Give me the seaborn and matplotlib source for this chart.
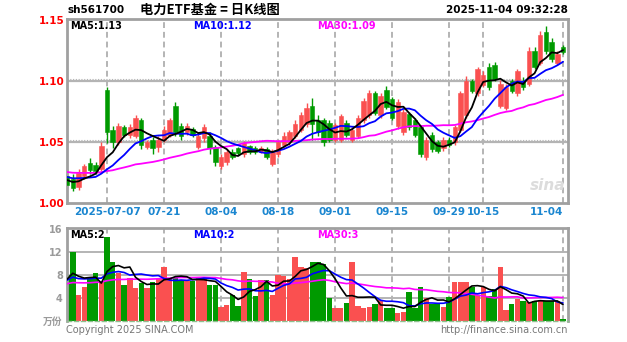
import matplotlib
matplotlib.use("Agg")
import matplotlib.pyplot as plt
import seaborn as sns
import numpy as np
import pandas as pd

# ---------------- data ----------------
open_ = [1.022, 1.020, 1.013, 1.022, 1.033, 1.031, 1.028, 1.093, 1.060, 1.050,
         1.062, 1.056, 1.055, 1.068, 1.046, 1.052, 1.046, 1.052, 1.056, 1.080,
         1.063, 1.058, 1.061, 1.046, 1.053, 1.055, 1.046, 1.030, 1.034, 1.042,
         1.045, 1.040, 1.047, 1.045, 1.042, 1.044, 1.032, 1.040, 1.048, 1.050,
         1.055, 1.060, 1.065, 1.080, 1.068, 1.068, 1.066, 1.052, 1.052, 1.066,
         1.052, 1.055, 1.068, 1.072, 1.090, 1.072, 1.093, 1.085, 1.063, 1.058,
         1.073, 1.068, 1.062, 1.038, 1.056, 1.050, 1.045, 1.052, 1.050, 1.060,
         1.072, 1.100, 1.090, 1.097, 1.112, 1.113, 1.080, 1.078, 1.100, 1.090,
         1.100, 1.098, 1.125, 1.115, 1.140, 1.132, 1.115, 1.128]
close = [1.015, 1.012, 1.025, 1.030, 1.027, 1.026, 1.047, 1.058, 1.050, 1.063,
         1.056, 1.062, 1.070, 1.048, 1.050, 1.045, 1.052, 1.060, 1.068, 1.058,
         1.055, 1.063, 1.056, 1.055, 1.062, 1.045, 1.034, 1.038, 1.042, 1.038,
         1.041, 1.049, 1.042, 1.042, 1.045, 1.038, 1.042, 1.050, 1.055, 1.058,
         1.065, 1.072, 1.078, 1.065, 1.058, 1.050, 1.052, 1.064, 1.071, 1.056,
         1.060, 1.070, 1.084, 1.090, 1.074, 1.088, 1.079, 1.070, 1.083, 1.075,
         1.062, 1.056, 1.040, 1.052, 1.044, 1.043, 1.052, 1.048, 1.062, 1.090,
         1.100, 1.092, 1.110, 1.105, 1.095, 1.102, 1.098, 1.095, 1.092, 1.108,
         1.095, 1.125, 1.112, 1.138, 1.125, 1.118, 1.122, 1.124]
high = [1.028, 1.024, 1.028, 1.032, 1.037, 1.034, 1.050, 1.095, 1.063, 1.066,
        1.064, 1.065, 1.072, 1.070, 1.052, 1.054, 1.055, 1.063, 1.070, 1.083,
        1.066, 1.066, 1.062, 1.058, 1.065, 1.058, 1.048, 1.040, 1.044, 1.044,
        1.046, 1.051, 1.048, 1.047, 1.047, 1.046, 1.044, 1.052, 1.058, 1.060,
        1.068, 1.075, 1.082, 1.086, 1.072, 1.070, 1.068, 1.066, 1.073, 1.068,
        1.062, 1.072, 1.086, 1.093, 1.092, 1.090, 1.096, 1.087, 1.085, 1.077,
        1.075, 1.070, 1.064, 1.054, 1.058, 1.052, 1.054, 1.054, 1.064, 1.092,
        1.104, 1.102, 1.112, 1.108, 1.115, 1.116, 1.101, 1.098, 1.102, 1.110,
        1.103, 1.128, 1.128, 1.141, 1.145, 1.135, 1.125, 1.130]
low = [1.012, 1.010, 1.011, 1.020, 1.024, 1.024, 1.026, 1.049, 1.045, 1.048,
       1.054, 1.053, 1.053, 1.044, 1.044, 1.040, 1.042, 1.050, 1.054, 1.055,
       1.052, 1.056, 1.054, 1.044, 1.050, 1.040, 1.030, 1.028, 1.031, 1.036,
       1.039, 1.038, 1.040, 1.040, 1.041, 1.036, 1.030, 1.038, 1.046, 1.048,
       1.053, 1.058, 1.062, 1.052, 1.055, 1.047, 1.050, 1.050, 1.050, 1.054,
       1.050, 1.053, 1.066, 1.070, 1.072, 1.070, 1.077, 1.068, 1.061, 1.056,
       1.060, 1.054, 1.038, 1.035, 1.042, 1.041, 1.043, 1.046, 1.048, 1.058,
       1.070, 1.090, 1.088, 1.095, 1.093, 1.100, 1.078, 1.076, 1.090, 1.088,
       1.093, 1.096, 1.110, 1.113, 1.122, 1.116, 1.113, 1.122]
volume = [8.0, 12.0, 4.5, 6.0, 7.4, 8.3, 6.8, 14.6, 10.3, 8.3,
          6.3, 7.5, 5.7, 6.6, 5.7, 6.8, 7.4, 9.4, 7.4, 7.7,
          7.2, 6.9, 6.9, 7.5, 7.5, 6.3, 6.3, 2.5, 2.8, 4.6,
          2.6, 8.5, 7.3, 4.3, 7.2, 7.2, 4.5, 8.0, 7.8, 7.4,
          11.1, 9.4, 9.2, 10.3, 10.3, 10.0, 4.0, 2.3, 2.3, 3.2,
          10.3, 2.6, 2.3, 2.5, 3.0, 3.6, 2.3, 2.3, 1.4, 1.6,
          5.0, 2.3, 5.9, 4.0, 3.0, 3.0, 2.4, 4.2, 6.8, 6.8,
          6.8, 5.9, 4.5, 6.0, 4.4, 5.5, 9.4, 2.0, 3.0, 3.8,
          3.5, 3.3, 3.5, 3.6, 3.5, 3.5, 3.4, 0.3]
# sessions before the visible window (estimated, only feed the moving averages)
prior_close = [1.030, 1.028, 1.031, 1.027, 1.025, 1.029, 1.032, 1.030, 1.026, 1.024,
               1.027, 1.029, 1.031, 1.028, 1.025, 1.023, 1.026, 1.028, 1.027, 1.024,
               1.022, 1.025, 1.027, 1.024, 1.021, 1.020, 1.022, 1.019, 1.018]
prior_volume = [6.0, 5.5, 6.5, 7.0, 5.8, 6.2, 6.8, 5.9, 6.4, 6.1,
                5.7, 6.3, 6.6, 6.0, 5.5, 6.2, 6.9, 6.4, 5.8, 6.1,
                6.7, 7.2, 6.5, 7.0, 7.4, 6.8, 7.1, 7.6, 6.9]

tick_idx = [7, 17, 27, 37, 47, 57, 67, 73, 87]
tick_labels = ["2025-07-07", "07-21", "08-04", "08-18", "09-01",
               "09-15", "09-29", "10-15", "11-04"]
price_ticks = [1.00, 1.05, 1.10, 1.15]
price_tick_labels = ["1.00", "1.05", "1.10", "1.15"]
vol_ticks = [0, 4, 8, 12, 16]
vol_tick_labels = ["万份", "4", "8", "12", "16"]
price_ma_labels = ["MA5:1.13", "MA10:1.12", "MA30:1.09"]
vol_ma_labels = ["MA5:2", "MA10:2", "MA30:3"]

# ---------------- derived ----------------
n = len(close)
idx = np.arange(n)
full_c = pd.Series(prior_close + close)
full_v = pd.Series(prior_volume + volume)
k = len(prior_close)
ma = {w: full_c.rolling(w, min_periods=1).mean().values[k:] for w in (5, 10, 30)}
vma = {w: full_v.rolling(w, min_periods=1).mean().values[k:] for w in (5, 10, 30)}

df = pd.DataFrame({"i": idx, "open": open_, "close": close, "high": high,
                   "low": low, "vol": volume})
df["up"] = df["close"] >= df["open"]

RED = "#fa5050"
GREEN = "#009a00"
MA_COLORS = {5: "#000000", 10: "#0000ff", 30: "#ff00ff"}
GRID = "#b4b4b4"
FRAME = "#a0a0a0"

sns.set_style("white")
plt.rcParams["font.family"] = ["DejaVu Sans", "Noto Sans CJK SC"]

W, H = 627, 342
fig = plt.figure(figsize=(W / 100, H / 100), dpi=100)
fig.patch.set_facecolor("white")

def fx(x):
    return x / W

def fy(y):
    return 1 - y / H

L, R = 67, 568
ax_p = fig.add_axes([fx(L), fy(203), (R - L) / W, (203 - 19) / H])
ax_v = fig.add_axes([fx(L), fy(321), (R - L) / W, (321 - 228) / H])

xlim = (-0.02, 87.87)

# ---- price panel ----
for ax in (ax_p, ax_v):
    for t in tick_idx:
        ax.axvline(t, color=GRID, lw=1.4, ls=(0, (3, 2)), zorder=0)
for yv in (1.05, 1.10):
    ax_p.axhline(yv, color=GRID, lw=1.6, zorder=0)
    ax_p.axhline(yv + 0.0018, color=GRID, lw=0.8, ls=(0, (1, 1.5)), zorder=0)

colors = np.where(df["up"], RED, GREEN)
ax_p.vlines(df["i"], df["low"], df["high"], colors=colors, lw=1.0, zorder=2)
body_bottom = np.minimum(df["open"], df["close"])
body_h = np.maximum(np.abs(df["close"] - df["open"]), 0.0008)
ax_p.bar(df["i"], body_h, bottom=body_bottom, width=0.78, color=colors,
         edgecolor=colors, linewidth=0.4, zorder=3)

for w in (30, 10, 5):
    sns.lineplot(x=idx, y=ma[w], ax=ax_p, color=MA_COLORS[w], lw=1.3,
                 zorder=4, legend=False)

ax_p.set_xlim(*xlim)
ax_p.set_ylim(1.0, 1.151)
ax_p.set_yticks(price_ticks)
ax_p.set_yticklabels(price_tick_labels, color="#ff0000", fontsize=7.5,
                     fontweight="bold")
ax_p.set_xticks(tick_idx)
ax_p.set_xticklabels(tick_labels, color="#1a86d0", fontsize=7.5,
                     fontweight="bold")
xt = ax_p.get_xticklabels()
xt[-1].set_ha("right")
xt[-1].set_x(tick_idx[-1])
ax_p.tick_params(axis="both", length=0, pad=2)
ax_p.tick_params(axis="x", pad=3)
ax_p.set_xlabel("")
ax_p.set_ylabel("")

# ---- volume panel ----
for yv in (4, 8, 12):
    ax_v.axhline(yv, color=GRID, lw=1.4, zorder=0)
ax_v.bar(df["i"], df["vol"], width=0.95, color=colors, edgecolor="none",
         zorder=2)
for w in (30, 10, 5):
    sns.lineplot(x=idx, y=vma[w], ax=ax_v, color=MA_COLORS[w], lw=1.2,
                 zorder=4, legend=False)
ax_v.set_xlim(*xlim)
ax_v.set_ylim(0, 16.2)
ax_v.set_yticks(vol_ticks)
ax_v.set_yticklabels(vol_tick_labels, color="#9a9a9a", fontsize=7,
                     fontweight="bold")
ax_v.set_xticks([])
ax_v.tick_params(axis="both", length=0, pad=3)
ax_v.set_xlabel("")
ax_v.set_ylabel("")

for ax in (ax_p, ax_v):
    for s in ax.spines.values():
        s.set_color(FRAME)
        s.set_linewidth(2.0)
ax_v.spines["bottom"].set_linewidth(1.0)
ax_v.spines["bottom"].set_linestyle((0, (3, 2)))
ax_v.spines["bottom"].set_color("#8fbf8f")

# ---- texts ----
fig.text(fx(67), fy(10), "sh561700", fontsize=7.5, fontweight="bold",
         color="black", va="center", ha="left")
fig.text(fx(210), fy(10), "电力ETF基金 = 日K线图", fontsize=9.5,
         fontweight="bold", color="black", va="center", ha="center",
         family=["Noto Sans CJK SC", "DejaVu Sans"])
fig.text(fx(568), fy(10), "2025-11-04 09:32:28", fontsize=7.5,
         fontweight="bold", color="black", va="center", ha="right")

for lbl, x0, w in zip(price_ma_labels, (70, 193, 317), (5, 10, 30)):
    fig.text(fx(x0), fy(26), lbl, fontsize=7, fontweight="bold",
             color=MA_COLORS[w], va="center", ha="left")
for lbl, x0, w in zip(vol_ma_labels, (70, 193, 317), (5, 10, 30)):
    fig.text(fx(x0), fy(235), lbl, fontsize=7, fontweight="bold",
             color=MA_COLORS[w], va="center", ha="left")

fig.text(fx(548), fy(186), "sina", fontsize=11, fontstyle="italic",
         fontweight="bold", color="#dcdcdc", va="center", ha="center")
fig.text(fx(66), fy(330), "Copyright 2025 SINA.COM", fontsize=7,
         color="#777777", va="center", ha="left")
fig.text(fx(568), fy(330), "http://finance.sina.com.cn", fontsize=7,
         color="#777777", va="center", ha="right")

fig.savefig("out.png", dpi=100, facecolor="white")
